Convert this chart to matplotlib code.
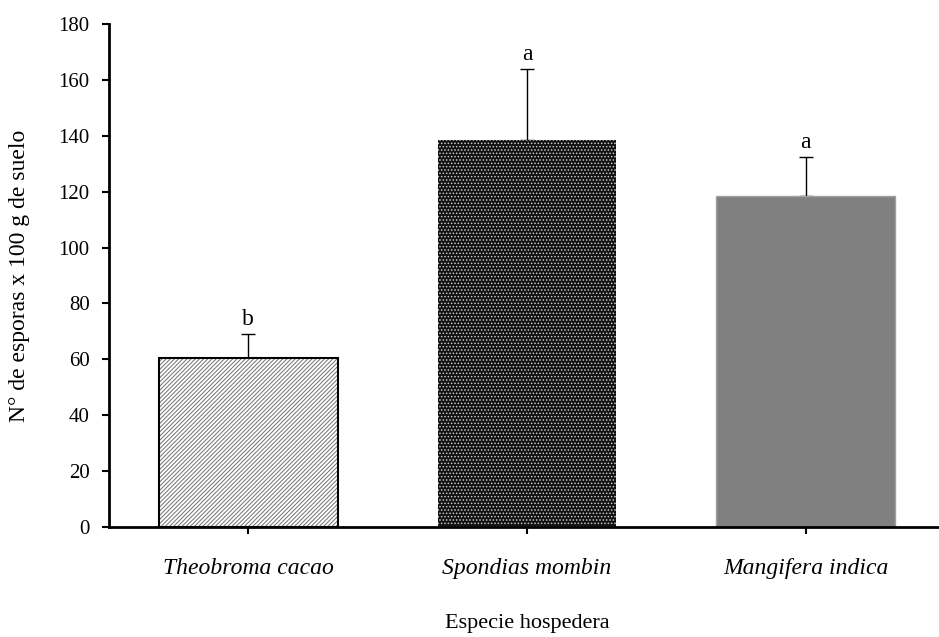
import matplotlib.pyplot as plt
import numpy as np

plt.rcParams['font.family'] = ['Liberation Serif', 'DejaVu Serif']
plt.rcParams['hatch.linewidth'] = 0.7

especies = ['Theobroma cacao', 'Spondias mombin', 'Mangifera indica']
esporas = [60.4, 138.5, 118.6]
error = [8.7, 25.5, 13.9]
letras = ['b', 'a', 'a']

fig = plt.figure(figsize=(9.39, 6.37), dpi=100)
ax = fig.add_axes([109/939, 1-527/637, 836/939, 503/637])

x = np.arange(len(especies))
# barra 1: rayada, barra 2: negra con puntos, barra 3: gris
ax.bar(x[0], esporas[0], width=0.64, color='white', edgecolor='#707070',
       hatch='////////', linewidth=0, zorder=2)
ax.bar(x[0], esporas[0], width=0.64, color='none', edgecolor='black',
       linewidth=1.5, zorder=3)
ax.bar(x[1], esporas[1], width=0.64, color='#111111', edgecolor='#cccccc',
       hatch='.....', linewidth=0, zorder=2)
ax.bar(x[2], esporas[2], width=0.64, color='#808080', edgecolor='#a0a0a0',
       linewidth=1, zorder=2)

ax.errorbar(x, esporas, yerr=[np.zeros(3), error], fmt='none', ecolor='black',
            elinewidth=1, capsize=5, capthick=1, zorder=1)

for xi, yi, ei, l in zip(x, esporas, error, letras):
    ax.annotate(l, (xi, yi + ei), xytext=(0, 2.5), textcoords='offset points',
                ha='center', va='bottom', fontsize=17)

ax.set_xlim(-0.5, 2.5)
ax.set_ylim(0, 180)
ax.set_yticks(np.arange(0, 181, 20))
ax.set_xticks(x)
ax.set_xticklabels(especies, fontstyle='italic', fontsize=17)
ax.tick_params(axis='y', labelsize=15, direction='out', length=5, width=1.5, pad=9)
ax.tick_params(axis='x', direction='out', length=5, width=1.5, pad=17.5)

for s in ['top', 'right']:
    ax.spines[s].set_visible(False)
for s in ['left', 'bottom']:
    ax.spines[s].set_linewidth(2)

ax.set_xlabel('Especie hospedera', fontsize=16)
ax.set_ylabel('N° de esporas x 100 g de suelo', fontsize=17)
ax.xaxis.set_label_coords(0.5, -0.173)
ax.yaxis.set_label_coords(-0.095, 0.5)

fig.savefig('out.png', dpi=100)
